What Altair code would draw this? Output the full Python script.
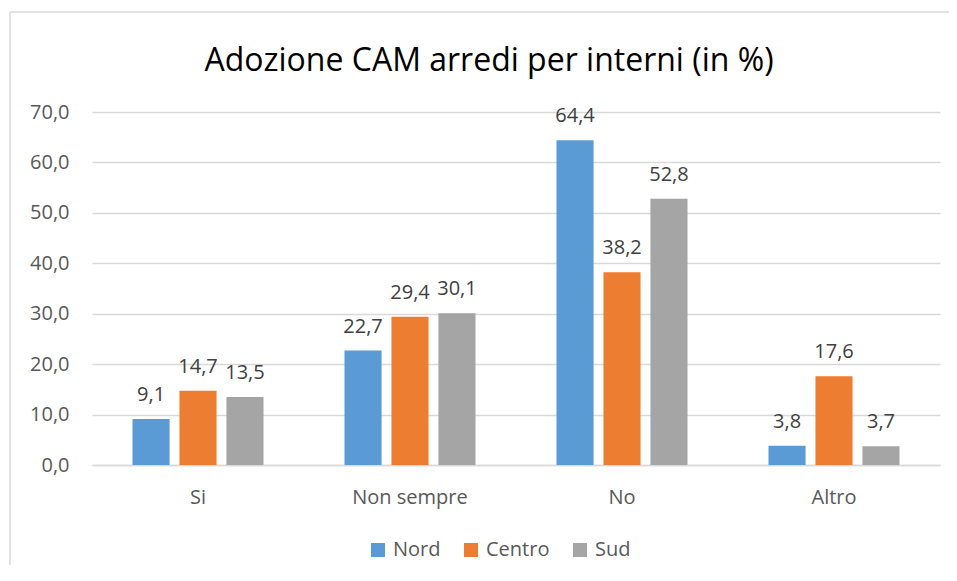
import altair as alt
import pandas as pd

categories = ["Si", "Non sempre", "No", "Altro"]
series = ["Nord", "Centro", "Sud"]
nord = [9.1, 22.7, 64.4, 3.8]
centro = [14.7, 29.4, 38.2, 17.6]
sud = [13.5, 30.1, 52.8, 3.7]
colors = ["#5B9BD5", "#ED7D31", "#A5A5A5"]
y_ticks = [0, 10, 20, 30, 40, 50, 60, 70]

rows = []
for i, c in enumerate(categories):
    for s, vals in zip(series, [nord, centro, sud]):
        rows.append({
            "Categoria": c,
            "Area": s,
            "Valore": vals[i],
            "Etichetta": f"{vals[i]:.1f}".replace(".", ","),
        })
df = pd.DataFrame(rows)

FONT = "Open Sans"

base = alt.Chart(df).encode(
    x=alt.X(
        "Categoria:N",
        sort=categories,
        scale=alt.Scale(paddingInner=0.382, paddingOuter=0.191),
        axis=alt.Axis(
            title=None, labelAngle=0, ticks=False, domainColor="#D9D9D9",
            domainWidth=1.5,
            labelFont=FONT, labelFontSize=20, labelColor="#595959",
            labelPadding=38, labelBaseline="alphabetic",
        ),
    ),
    xOffset=alt.XOffset(
        "Area:N", sort=series, scale=alt.Scale(paddingInner=0.21, paddingOuter=0)
    ),
    y=alt.Y(
        "Valore:Q",
        scale=alt.Scale(domain=[0, 70], nice=False),
        axis=alt.Axis(
            title=None, values=y_ticks, domain=False, ticks=False,
            gridColor="#D9D9D9", gridWidth=1.5,
            labelExpr="replace(format(datum.value, '.1f'), '.', ',')",
            labelFont=FONT, labelFontSize=20, labelColor="#595959",
            labelPadding=23,
        ),
    ),
)

bars = base.mark_bar().encode(
    color=alt.Color(
        "Area:N",
        sort=series,
        scale=alt.Scale(domain=series, range=colors),
        legend=alt.Legend(
            title=None, orient="none", legendX=276, legendY=428,
            direction="horizontal", symbolType="square", symbolSize=196,
            symbolStrokeWidth=0, labelFont=FONT, labelFontSize=20,
            labelColor="#595959", labelOffset=5, columnPadding=20,
        ),
    )
)

labels = base.mark_text(
    baseline="alphabetic", dy=-18, font=FONT, fontSize=20, color="#404040"
).encode(text="Etichetta:N")

frame_df = pd.DataFrame({"b": [0]})
border_left = alt.Chart(frame_df).mark_rule(
    stroke="#D9D9D9", strokeWidth=1.5
).encode(x=alt.value(-82), y=alt.value(-100), y2=alt.value(1000))
border_top = alt.Chart(frame_df).mark_rule(
    stroke="#D9D9D9", strokeWidth=1.5
).encode(x=alt.value(-82), x2=alt.value(1000), y=alt.value(-100))

chart = alt.layer(border_left, border_top, bars, labels).properties(
    width=848,
    height=353,
    title=alt.TitleParams(
        "Adozione CAM arredi per interni (in %)",
        font=FONT, fontSize=32, fontWeight="normal", color="#000000",
        dx=-27, offset=-92, baseline="alphabetic",
    ),
    autosize=alt.AutoSizeParams(type="none"),
    padding={"left": 84, "top": 104, "right": 9, "bottom": 100},
).configure_view(stroke=None)

chart.save("out.html", embed_options={"renderer": "svg", "actions": False})
